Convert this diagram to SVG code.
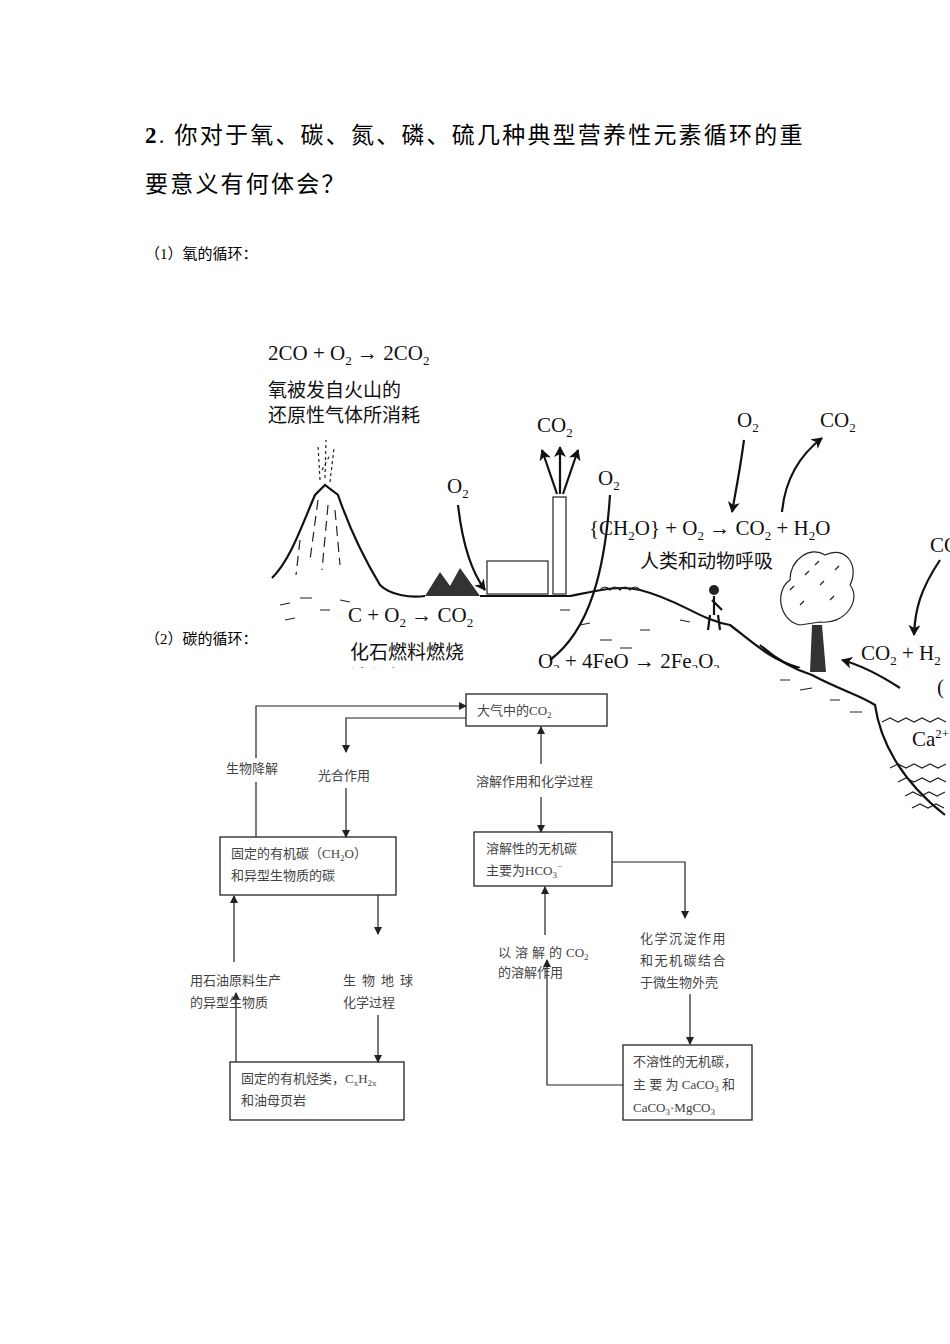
<svg xmlns="http://www.w3.org/2000/svg" width="950" height="1344" viewBox="0 0 950 1344">
<style>
.t{font-family:"Liberation Serif","Noto Sans CJK SC",serif;fill:#000}
.il{font-family:"Liberation Serif","Noto Sans CJK SC",serif;font-size:21px;fill:#111}
.ilc{font-family:"Noto Sans CJK SC",sans-serif;font-size:19px;fill:#111}
.f{font-family:"Liberation Serif","Noto Sans CJK SC",serif;font-size:13px;fill:#444}
.b{fill:none;stroke:#222;stroke-width:1.3}
.c{fill:none;stroke:#222;stroke-width:1.2}
.d{fill:none;stroke:#111;stroke-width:2.2}
</style>
<defs>
<marker id="a" markerWidth="8" markerHeight="8" refX="7" refY="4" orient="auto" markerUnits="userSpaceOnUse"><path d="M0,0 L8,4 L0,8 z" fill="#222"/></marker>
<marker id="h" markerWidth="12" markerHeight="12" refX="10" refY="6" orient="auto" markerUnits="userSpaceOnUse"><path d="M0,0 L11,6 L0,12 L3,6 z" fill="#111"/></marker>
<clipPath id="cp"><rect x="260" y="330" width="690" height="338"/></clipPath>
</defs>
<rect width="950" height="1344" fill="#fff"/>
<text class="t" x="145" y="143" font-size="23" letter-spacing="2.2"><tspan font-weight="bold">2</tspan>. 你对于氧、碳、氮、磷、硫几种典型营养性元素循环的重</text>
<text class="t" x="145" y="192" font-size="23" letter-spacing="2.2">要意义有何体会？</text>
<text class="t" x="145" y="259" font-size="15">（1）氧的循环：</text>
<g id="illustration" clip-path="url(#cp)">
<path class="d" d="M272,578 C290,560 300,530 315,495 L325,485 L338,495 C350,530 365,560 380,585 C390,595 410,598 425,596"/>
<path class="c" d="M318,500 L310,560 M328,505 L322,570 M335,510 L340,565 M300,540 L296,575" stroke-dasharray="10 6"/>
<path class="c" d="M320,480 L318,445 M325,478 L326,440 M330,482 L334,448 M322,470 L330,455" stroke-dasharray="3 3"/>
<path class="c" d="M280,605 l10,-2 M300,598 l12,0 M285,620 l10,-2 M320,610 l10,0 M340,600 l10,2 M560,610 l10,0 M580,625 l10,-2 M600,640 l12,0 M640,630 l10,0 M680,620 l10,2 M620,648 l12,0" stroke-width="1.5"/>
<path d="M425,596 L440,572 L450,586 L460,568 L480,596 z" fill="#333"/>
<rect x="487" y="561" width="61" height="33" class="c" stroke-width="1.6"/>
<rect x="553" y="497" width="13" height="97" class="c" stroke-width="1.6"/>
<path class="d" d="M480,596 L570,596 C600,590 620,585 640,590 C680,600 700,620 730,625 C750,640 770,660 800,668"/>
<path class="c" d="M600,590 q5,-6 10,0 q5,-6 10,0 q5,-6 10,0 q5,-6 10,0" stroke-width="2"/>
<path class="d" d="M557,494 L542,450" marker-end="url(#h)"/>
<path class="d" d="M560,494 L560,447" marker-end="url(#h)"/>
<path class="d" d="M563,494 L578,450" marker-end="url(#h)"/>
<path class="d" d="M458,505 C462,540 470,570 485,590" marker-end="url(#h)"/>
<path class="d" d="M610,495 C605,570 590,630 550,660"/>
<path class="d" d="M744,440 C740,470 736,490 732,512" marker-end="url(#h)"/>
<path class="d" d="M782,512 C785,480 800,455 822,438" marker-end="url(#h)"/>
<path class="d" d="M940,560 C920,590 915,610 914,635" marker-end="url(#h)"/>
<circle cx="714" cy="590" r="5" fill="#222"/>
<path class="d" d="M714,596 L714,615 M710,615 L708,630 M718,615 L720,630 M712,600 L722,610"/>
<path class="c" stroke-width="2" d="M800,625 C778,620 775,590 790,580 C790,560 810,545 825,555 C845,545 860,565 850,585 C862,600 845,625 820,622 z"/>
<path class="c" d="M790,590 l4,-4 M805,575 l4,-4 M820,585 l4,-4 M835,570 l4,-4 M800,605 l4,-4 M830,600 l4,-4 M815,565 l4,-4"/>
<text class="il" x="268" y="360">2CO + O<tspan font-size="13" dy="5">2</tspan><tspan dy="-5"> → 2CO</tspan><tspan font-size="13" dy="5">2</tspan></text>
<text class="ilc" x="268" y="397">氧被发自火山的</text>
<text class="ilc" x="268" y="422">还原性气体所消耗</text>
<text class="il" x="537" y="432">CO<tspan font-size="13" dy="5">2</tspan></text>
<text class="il" x="447" y="493">O<tspan font-size="13" dy="5">2</tspan></text>
<text class="il" x="598" y="485">O<tspan font-size="13" dy="5">2</tspan></text>
<text class="il" x="737" y="427">O<tspan font-size="13" dy="5">2</tspan></text>
<text class="il" x="820" y="427">CO<tspan font-size="13" dy="5">2</tspan></text>
<text class="il" x="589" y="535">{CH<tspan font-size="13" dy="5">2</tspan><tspan dy="-5">O} + O</tspan><tspan font-size="13" dy="5">2</tspan><tspan dy="-5"> → CO</tspan><tspan font-size="13" dy="5">2</tspan><tspan dy="-5"> + H</tspan><tspan font-size="13" dy="5">2</tspan><tspan dy="-5">O</tspan></text>
<text class="ilc" x="640" y="568">人类和动物呼吸</text>
<text class="il" x="930" y="552">CO</text>
<text class="il" x="348" y="622">C + O<tspan font-size="13" dy="5">2</tspan><tspan dy="-5"> → CO</tspan><tspan font-size="13" dy="5">2</tspan></text>
<text class="ilc" x="350" y="659">化石燃料燃烧</text>
<text class="ilc" x="350" y="684">消耗氧</text>
<text class="il" x="538" y="668">O<tspan font-size="13" dy="5">2</tspan><tspan dy="-5"> + 4FeO → 2Fe</tspan><tspan font-size="13" dy="5">2</tspan><tspan dy="-5">O</tspan><tspan font-size="13" dy="5">3</tspan></text>
<text class="il" x="861" y="660">CO<tspan font-size="13" dy="5">2</tspan><tspan dy="-5"> + H</tspan><tspan font-size="13" dy="5">2</tspan></text>
</g>
<g id="shore">
<path class="d" d="M760,645 C775,658 790,668 812,675 C840,690 860,695 875,705 C880,740 900,780 945,815"/>
<path d="M812,625 L810,672 L826,672 L822,625 z" fill="#333"/>
<path class="d" d="M900,688 C880,675 860,665 842,660" marker-end="url(#h)"/>
<path class="c" d="M780,680 l10,0 M800,690 l12,-2 M830,700 l10,0 M850,712 l12,0"/>
<path class="c" d="M882,722 l8,-4 l8,4 l8,-4 l8,4 l8,-4 l8,4 l8,-4 l8,4 M890,768 l8,-4 l8,4 l8,-4 l8,4 l8,-4 l8,4 l8,-4 M898,782 l8,-4 l8,4 l8,-4 l8,4 l8,-4 l8,4 M905,796 l8,-4 l8,4 l8,-4 l8,4 l8,-4 M912,808 l8,-4 l8,4 l8,-4 l8,4"/>
<text class="il" x="937" y="694">(</text>
<text class="il" x="912" y="746">Ca<tspan font-size="13" dy="-8">2+</tspan></text>
</g>
<text class="t" x="145" y="644" font-size="15">（2）碳的循环：</text>
<g id="n1"><rect class="b" x="466" y="694" width="141" height="32"/><text class="f" x="477" y="715">大气中的CO<tspan font-size="9" dy="3">2</tspan></text></g>
<g id="n2"><rect class="b" x="220" y="837" width="176" height="58"/><text class="f" x="231" y="858">固定的有机碳（CH<tspan font-size="9" dy="3">2</tspan><tspan dy="-3">O）</tspan></text><text class="f" x="231" y="880">和异型生物质的碳</text></g>
<g id="n3"><rect class="b" x="474" y="832" width="138" height="54"/><text class="f" x="486" y="853">溶解性的无机碳</text><text class="f" x="486" y="875">主要为HCO<tspan font-size="9" dy="3">3</tspan><tspan font-size="9" dy="-9">−</tspan></text></g>
<g id="n4"><rect class="b" x="230" y="1062" width="174" height="58"/><text class="f" x="241" y="1083">固定的有机烃类，C<tspan font-size="9" dy="3">x</tspan><tspan dy="-3">H</tspan><tspan font-size="9" dy="3">2x</tspan></text><text class="f" x="241" y="1105">和油母页岩</text></g>
<g id="n5"><rect class="b" x="623" y="1045" width="129" height="75"/><text class="f" x="633" y="1066">不溶性的无机碳，</text><text class="f" x="633" y="1089">主 要 为 CaCO<tspan font-size="9" dy="3">3</tspan><tspan dy="-3"> 和</tspan></text><text class="f" x="633" y="1112">CaCO<tspan font-size="9" dy="3">3</tspan><tspan dy="-3">·MgCO</tspan><tspan font-size="9" dy="3">3</tspan></text></g>
<g id="connectors">
<path class="c" d="M256,837 L256,782"/><path class="c" d="M256,758 L256,706 L466,706" marker-end="url(#a)"/>
<path class="c" d="M466,718 L346,718 L346,752" marker-end="url(#a)"/><path class="c" d="M346,788 L346,837" marker-end="url(#a)"/>
<path class="c" d="M541,764 L541,727" marker-end="url(#a)"/><path class="c" d="M541,797 L541,832" marker-end="url(#a)"/>
<path class="c" d="M612,862 L685,862 L685,918" marker-end="url(#a)"/><path class="c" d="M690,994 L690,1044" marker-end="url(#a)"/>
<path class="c" d="M623,1085 L547,1085 L547,960" marker-end="url(#a)"/><path class="c" d="M545,935 L545,887" marker-end="url(#a)"/>
<path class="c" d="M378,895 L378,934" marker-end="url(#a)"/><path class="c" d="M378,1015 L378,1062" marker-end="url(#a)"/>
<path class="c" d="M236,1062 L236,993" marker-end="url(#a)"/><path class="c" d="M234,962 L234,896" marker-end="url(#a)"/>
<text class="f" x="226" y="773">生物降解</text>
<text class="f" x="318" y="780">光合作用</text>
<text class="f" x="476" y="786">溶解作用和化学过程</text>
<text class="f" x="498" y="957"><tspan letter-spacing="4">以溶解的</tspan>CO<tspan font-size="9" dy="3">2</tspan></text>
<text class="f" x="498" y="977">的溶解作用</text>
<text class="f" x="640" y="943" letter-spacing="1.5">化学沉淀作用</text>
<text class="f" x="640" y="965" letter-spacing="1.5">和无机碳结合</text>
<text class="f" x="640" y="987">于微生物外壳</text>
<text class="f" x="343" y="985" letter-spacing="6">生物地球</text>
<text class="f" x="343" y="1007">化学过程</text>
<text class="f" x="190" y="985">用石油原料生产</text>
<text class="f" x="190" y="1007">的异型生物质</text>
</g>
</svg>
